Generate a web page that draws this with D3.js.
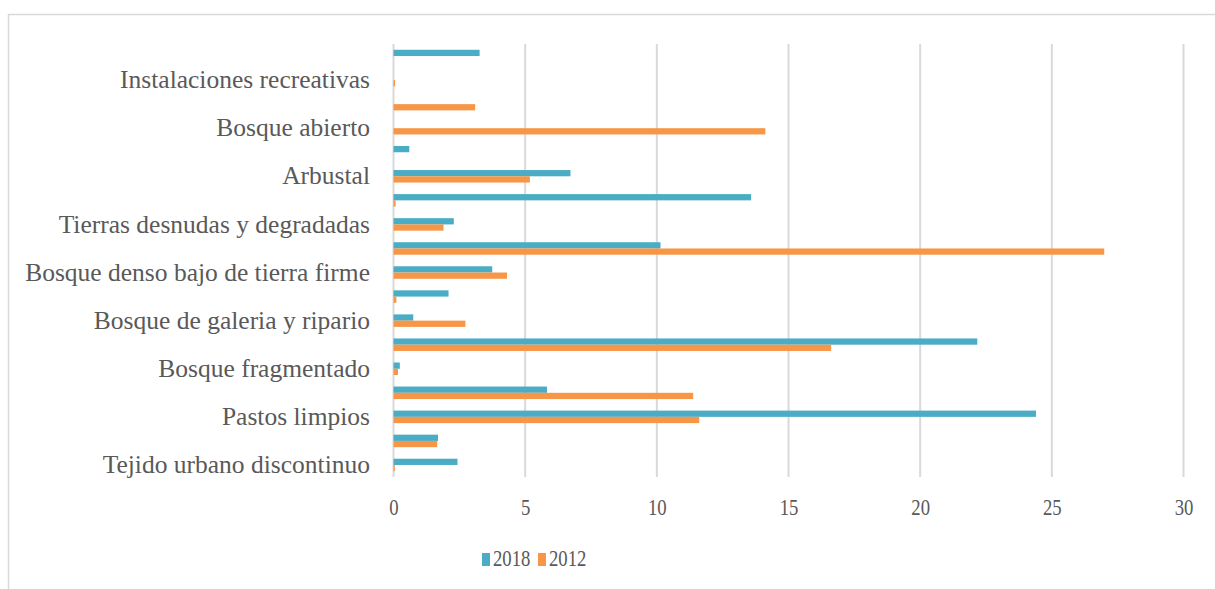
<!DOCTYPE html>
<html><head><meta charset="utf-8">
<script src="https://cdn.jsdelivr.net/npm/d3@7"></script>
<style>
html,body{margin:0;padding:0;background:#fff;}
svg{display:block;}
</style></head>
<body>
<svg id="chart" width="1215" height="589"></svg>
<script>
// Categories listed bottom to top (only every other label is printed in the original)
const categories = [
  "Tejido urbano discontinuo", "", "Pastos limpios", "", "Bosque fragmentado", "",
  "Bosque de galeria y ripario", "", "Bosque denso bajo de tierra firme", "",
  "Tierras desnudas y degradadas", "", "Arbustal", "", "Bosque abierto", "",
  "Instalaciones recreativas", ""
];
const values2018 = [2.43, 1.69, 24.4, 5.83, 0.24, 22.17, 0.75, 2.09, 3.75, 10.14, 2.29, 13.58, 6.72, 0.6, 0, 0, 0, 3.27];
const values2012 = [0.05, 1.66, 11.61, 11.38, 0.17, 16.62, 2.73, 0.11, 4.31, 26.99, 1.9, 0.08, 5.18, 0, 14.12, 3.10, 0.06, 0];
const seriesNames = ["2018", "2012"];
const xTicks = [0, 5, 10, 15, 20, 25, 30];

const colors = {"2018": "#4BACC6", "2012": "#F79646"};
const svg = d3.select("#chart");
const W = 1215, H = 589;
const mLeft = 393.5, mRight = 1183.5, mTop = 44, mBottom = 477;
const font = "'Liberation Serif', 'Times New Roman', serif";
const textColor = "#595959";
const numScale = 0.78;

// outer border
svg.append("rect").attr("x", 8.5).attr("y", 14.5).attr("width", W + 10).attr("height", H + 10)
  .attr("fill", "none").attr("stroke", "#d9d9d9").attr("stroke-width", 1.5);

const x = d3.scaleLinear().domain([0, 30]).range([mLeft, mRight]);
const idx = d3.range(categories.length);
const y = d3.scaleBand().domain(idx).range([mBottom, mTop]).paddingInner(0.48).paddingOuter(0.24);
const ySub = d3.scaleBand().domain(seriesNames).range([0, y.bandwidth()]);

// gridlines
svg.append("g").selectAll("line").data(xTicks).join("line")
  .attr("x1", d => x(d)).attr("x2", d => x(d))
  .attr("y1", mTop).attr("y2", mBottom)
  .attr("stroke", "#d9d9d9").attr("stroke-width", 2);

// bars
const data = idx.map(i => ({i, "2018": values2018[i], "2012": values2012[i]}));
const groups = svg.append("g").selectAll("g").data(data).join("g")
  .attr("transform", d => `translate(0,${y(d.i)})`);
groups.selectAll("rect").data(d => seriesNames.map(s => ({s, v: d[s]}))).join("rect")
  .attr("x", x(0)).attr("y", d => ySub(d.s))
  .attr("width", d => Math.max(0, x(d.v) - x(0))).attr("height", ySub.bandwidth())
  .attr("fill", d => colors[d.s]);

// y labels
const yAxis = d3.axisLeft(y).tickSize(0).tickPadding(0).tickFormat(i => categories[i]);
const gy = svg.append("g").attr("transform", `translate(${370},0)`).call(yAxis);
gy.select(".domain").remove();
gy.selectAll("text").attr("font-family", font).attr("font-size", 25.5).attr("fill", textColor)
  .attr("dy", "0.32em");

// x axis labels
const xAxis = d3.axisBottom(x).tickValues(xTicks).tickSize(0).tickPadding(0).tickFormat(d3.format("d"));
const gx = svg.append("g").attr("transform", `translate(0,${mBottom})`).call(xAxis);
gx.select(".domain").remove();
gx.selectAll("text").attr("font-family", font).attr("font-size", 24).attr("fill", textColor)
  .attr("y", 38).attr("dy", 0).attr("transform", `scale(${numScale},1)`);

// legend
const legend = svg.append("g");
const lx = [482, 538];
seriesNames.forEach((s, k) => {
  const g = legend.append("g").attr("transform", `translate(${lx[k]},0)`);
  g.append("rect").attr("x", 0).attr("y", 553).attr("width", 8).attr("height", 13).attr("fill", colors[s]);
  g.append("text").attr("x", 11 / numScale).attr("y", 566.5).attr("transform", `scale(${numScale},1)`)
    .attr("font-family", font).attr("font-size", 24).attr("fill", textColor).text(s);
});
</script>
</body></html>
